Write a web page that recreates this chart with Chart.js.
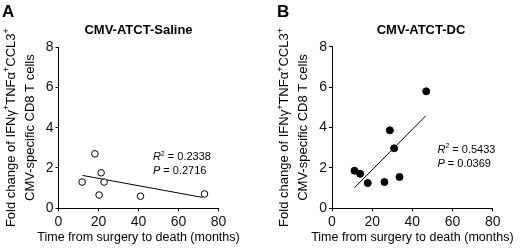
<!DOCTYPE html>
<html>
<head>
<meta charset="utf-8">
<script src="https://cdn.jsdelivr.net/npm/chart.js@4.4.1/dist/chart.umd.min.js"></script>
<style>
    html, body { margin: 0; padding: 0; background: #fff; }
    #wrap { position: relative; width: 520px; height: 252px; }
    #wrap canvas { position: absolute; top: 0; }
</style>
</head>
<body>
<div id="wrap">
    <canvas id="chart-saline" width="260" height="252" style="left:0"></canvas>
    <canvas id="chart-dc" width="260" height="252" style="left:260px"></canvas>
</div>
<script>
/* ── Chart data ── */
var xTicks = [0, 20, 40, 60, 80];
var yTicks = [0, 2, 4, 6, 8];

// Panel A: CMV-ATCT-Saline (open circles)
var salineMonths = [11.8, 18.2, 21.3, 22.8, 20.3, 41.0, 73.0];
var salineFold = [1.30, 2.70, 1.76, 1.30, 0.66, 0.60, 0.71];
var salineFitMonths = [12, 72];
var salineFitFold = [1.63, 0.54];
var salineStats = ['0.2338', '0.2716'];

// Panel B: CMV-ATCT-DC (filled circles)
var dcMonths = [11.2, 14.0, 17.8, 26.1, 28.8, 30.9, 33.6, 46.9];
var dcFold = [1.86, 1.71, 1.25, 1.30, 3.86, 2.97, 1.55, 5.79];
var dcFitMonths = [11.2, 46.7];
var dcFitFold = [1.02, 4.58];
var dcStats = ['0.5433', '0.0369'];

var FONT = '"Liberation Sans", Arial, Helvetica, sans-serif';
var X_TITLE = 'Time from surgery to death (months)';

function toPoints(xs, ys) {
    return xs.map(function (x, i) { return { x: x, y: ys[i] }; });
}

// draw a run of text pieces (plain / italic / superscript) starting at x
function drawRuns(ctx, runs, x, y, size, align) {
    var total = 0;
    runs.forEach(function (r) {
        ctx.font = (r.italic ? 'italic ' : '') + (r.sup ? Math.round(size * 0.68) : size) + 'px ' + FONT;
        r.w = ctx.measureText(r.t).width;
        total += r.w;
    });
    var cx = align === 'center' ? x - total / 2 : x;
    ctx.textAlign = 'left';
    ctx.textBaseline = 'alphabetic';
    runs.forEach(function (r) {
        ctx.font = (r.italic ? 'italic ' : '') + (r.sup ? Math.round(size * 0.68) : size) + 'px ' + FONT;
        ctx.fillText(r.t, cx, r.sup ? y - size * 0.42 : y);
        cx += r.w;
    });
}

/* ── Text overlay: panel letter, title, axis titles, stats ── */
var panelText = {
    id: 'panelText',
    afterDraw: function (chart, args, opts) {
        var ctx = chart.ctx;
        var area = chart.chartArea;
        var midX = (area.left + area.right) / 2;
        var midY = (area.top + area.bottom) / 2;

        ctx.save();
        ctx.fillStyle = '#000';

        ctx.font = 'bold 17px ' + FONT;
        ctx.textAlign = 'left';
        ctx.textBaseline = 'alphabetic';
        ctx.fillText(opts.letter, opts.letterX, 17);

        ctx.font = 'bold 13px ' + FONT;
        ctx.textAlign = 'center';
        ctx.fillText(opts.title, opts.titleX, 34);

        ctx.font = '12.5px ' + FONT;
        ctx.fillText(X_TITLE, midX, 241);

        // rotated y title, two lines
        ctx.save();
        ctx.translate(area.left - 44, midY);
        ctx.rotate(-Math.PI / 2);
        drawRuns(ctx, [
            { t: 'Fold change of IFN\u03b3' }, { t: '+', sup: true },
            { t: 'TNF\u03b1' }, { t: '+', sup: true },
            { t: 'CCL3' }, { t: '+', sup: true }
        ], 0, 0, 13, 'center');
        drawRuns(ctx, [{ t: 'CMV-specific CD8 T cells' }], 0, 19, 13, 'center');
        ctx.restore();

        // R squared / P value
        var sx = chart.scales.x.getPixelForValue(opts.statsAt[0]);
        var sy = chart.scales.y.getPixelForValue(opts.statsAt[1]);
        drawRuns(ctx, [{ t: 'R', italic: true }, { t: '2', sup: true }, { t: ' = ' + opts.stats[0] }], sx, sy + 4, 11, 'left');
        drawRuns(ctx, [{ t: 'P', italic: true }, { t: ' = ' + opts.stats[1] }], sx, sy + 17.5, 11, 'left');

        ctx.restore();
    }
};

function axisOptions(min, max, ticks, fit) {
    return {
        type: 'linear',
        min: min,
        max: max,
        afterBuildTicks: function (s) {
            s.ticks = ticks.map(function (v) { return { value: v }; });
        },
        afterFit: fit,
        grid: { drawOnChartArea: false, drawTicks: true, tickLength: 3, color: '#000', lineWidth: 1 },
        border: { display: true, color: '#000', width: 1 },
        ticks: { color: '#111', padding: 2, font: { family: FONT, size: 14 } }
    };
}

function buildPanel(id, cfg) {
    var ctx = document.getElementById(id).getContext('2d');
    return new Chart(ctx, {
        type: 'scatter',
        data: {
            datasets: [{
                type: 'scatter',
                data: toPoints(cfg.months, cfg.fold),
                pointRadius: cfg.radius,
                pointHoverRadius: cfg.radius,
                pointBackgroundColor: cfg.fill,
                pointBorderColor: '#000',
                pointBorderWidth: 1
            }, {
                type: 'line',
                data: toPoints(cfg.fitMonths, cfg.fitFold),
                borderColor: '#000',
                borderWidth: 1,
                pointRadius: 0,
                fill: false
            }]
        },
        options: {
            responsive: false,
            animation: false,
            events: [],
            layout: { padding: { top: cfg.top, right: cfg.right, bottom: 0, left: 0 } },
            plugins: {
                legend: { display: false },
                tooltip: { enabled: false },
                panelText: cfg.text
            },
            scales: {
                x: axisOptions(0, 80, xTicks, function (s) { s.height = 252 - cfg.bottom; }),
                y: axisOptions(0, 8, yTicks, function (s) { s.width = cfg.left; })
            }
        },
        plugins: [panelText]
    });
}

/* ── Render both panels ── */
buildPanel('chart-saline', {
    months: salineMonths, fold: salineFold,
    fitMonths: salineFitMonths, fitFold: salineFitFold,
    radius: 3.3, fill: '#fff',
    left: 58.5, right: 41.5, top: 47, bottom: 208.3,
    text: { letter: 'A', letterX: 2, title: 'CMV-ATCT-Saline', titleX: 138.5, stats: salineStats, statsAt: [47.2, 2.57] }
});

buildPanel('chart-dc', {
    months: dcMonths, fold: dcFold,
    fitMonths: dcFitMonths, fitFold: dcFitFold,
    radius: 3.5, fill: '#000',
    left: 72, right: 27.3, top: 46.7, bottom: 208.3,
    text: { letter: 'B', letterX: 17, title: 'CMV-ATCT-DC', titleX: 161, stats: dcStats, statsAt: [52.5, 2.93] }
});
</script>
</body>
</html>
